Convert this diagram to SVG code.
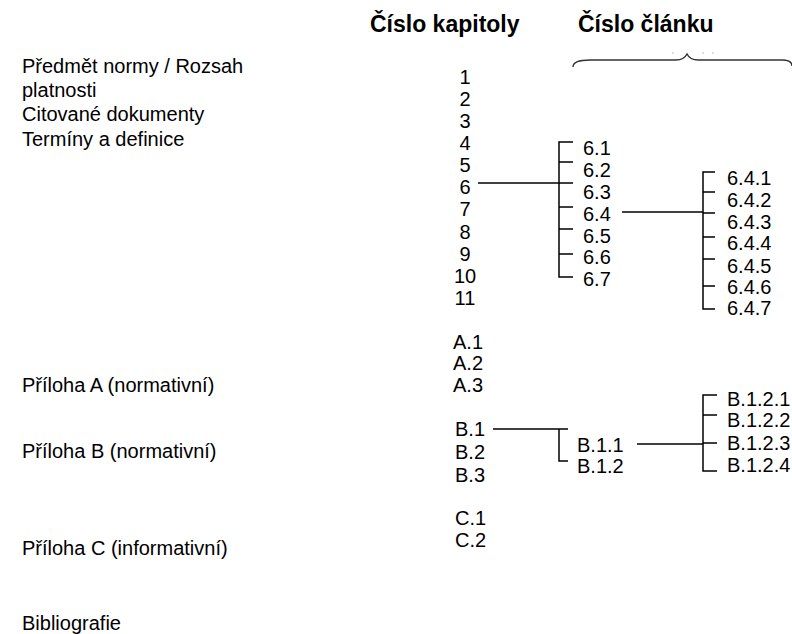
<svg xmlns="http://www.w3.org/2000/svg" width="792" height="634" viewBox="0 0 792 634">
  <style>
    text { font-family: "Liberation Sans", Arial, sans-serif; font-size: 20px; fill: #000; }
    .head { font-size: 23px; font-weight: bold; }
    .num { text-anchor: middle; }
    .ln { stroke: #000; stroke-width: 1.5; fill: none; }
    .brace { stroke: #333; stroke-width: 1.4; fill: none; }
  </style>
  <rect width="792" height="634" fill="#fff"/>

  <!-- column headings -->
  <g id="headings">
    <text class="head" x="370" y="32">Číslo kapitoly</text>
    <text class="head" x="578" y="32">Číslo článku</text>
    <path class="brace" d="M573,67 C573,62 579,60 590,60 L676,60 C682,60 685,58 687,54 C689,58 692,60 698,60 L782,60 C789,60 792,62 792,66"/>
    <g stroke="#bbb" stroke-width="1">
      <line x1="672" y1="53" x2="674" y2="53"/>
      <line x1="702" y1="53" x2="704" y2="53"/>
      <line x1="712" y1="53" x2="714" y2="53"/>
    </g>
  </g>

  <!-- section titles, left column -->
  <g id="titles">
    <text x="22" y="73">Předmět normy / Rozsah</text>
    <text x="22" y="97">platnosti</text>
    <text x="22" y="121">Citované dokumenty</text>
    <text x="22" y="146">Termíny a definice</text>
    <text x="22" y="392">Příloha A (normativní)</text>
    <text x="22" y="458">Příloha B (normativní)</text>
    <text x="22" y="555">Příloha C (informativní)</text>
    <text x="22" y="630">Bibliografie</text>
  </g>

  <!-- chapter numbers -->
  <g id="chapters">
    <text class="num" x="465" y="84">1</text>
    <text class="num" x="465" y="106">2</text>
    <text class="num" x="465" y="128">3</text>
    <text class="num" x="465" y="150">4</text>
    <text class="num" x="465" y="172">5</text>
    <text class="num" x="465" y="194">6</text>
    <text class="num" x="465" y="216">7</text>
    <text class="num" x="465" y="239">8</text>
    <text class="num" x="465" y="261">9</text>
    <text class="num" x="465" y="283">10</text>
    <text class="num" x="465" y="305">11</text>
  </g>

  <!-- annex clauses -->
  <g id="annexA">
    <text x="453" y="349">A.1</text>
    <text x="453" y="370">A.2</text>
    <text x="453" y="392">A.3</text>
  </g>
  <g id="annexB">
    <text x="455" y="436">B.1</text>
    <text x="455" y="459">B.2</text>
    <text x="455" y="482">B.3</text>
  </g>
  <g id="annexC">
    <text x="455" y="525">C.1</text>
    <text x="455" y="547">C.2</text>
  </g>

  <!-- clauses of chapter 6 -->
  <g id="clauses6">
    <text x="583" y="155">6.1</text>
    <text x="583" y="177">6.2</text>
    <text x="583" y="199">6.3</text>
    <text x="583" y="221">6.4</text>
    <text x="583" y="243">6.5</text>
    <text x="583" y="264">6.6</text>
    <text x="583" y="286">6.7</text>
  </g>

  <!-- subclauses of 6.4 -->
  <g id="clauses64">
    <text x="727" y="185">6.4.1</text>
    <text x="727" y="207">6.4.2</text>
    <text x="727" y="229">6.4.3</text>
    <text x="727" y="250">6.4.4</text>
    <text x="727" y="273">6.4.5</text>
    <text x="727" y="294">6.4.6</text>
    <text x="727" y="315">6.4.7</text>
  </g>

  <!-- clauses of B.1 -->
  <g id="clausesB1">
    <text x="577" y="452">B.1.1</text>
    <text x="577" y="473">B.1.2</text>
  </g>

  <!-- subclauses of B.1.2 -->
  <g id="clausesB12">
    <text x="727" y="406">B.1.2.1</text>
    <text x="727" y="427">B.1.2.2</text>
    <text x="727" y="450">B.1.2.3</text>
    <text x="727" y="472">B.1.2.4</text>
  </g>

  <!-- connectors and brackets -->
  <g id="connectors" class="ln">
    <!-- 6 -> 6.1..6.7 -->
    <line x1="478" y1="183" x2="559" y2="183"/>
    <path d="M573,142 H559 V277 H573"/>
    <path d="M559,162 H573 M559,183 H573 M559,207 H573 M559,229 H573 M559,254 H573"/>
    <!-- 6.4 -> 6.4.1..6.4.7 -->
    <line x1="622" y1="212" x2="703" y2="212"/>
    <path d="M715,172 H703 V309 H715"/>
    <path d="M703,192 H715 M703,213 H715 M703,237 H715 M703,259 H715 M703,286 H715"/>
    <!-- B.1 -> B.1.1, B.1.2 -->
    <path d="M493,429 H568 M559,429 V461 H568"/>
    <!-- B.1.1 -> B.1.2.1..B.1.2.4 -->
    <line x1="637" y1="444" x2="703" y2="444"/>
    <path d="M717,395 H703 V471 H717"/>
    <path d="M703,415 H717 M703,443 H717"/>
  </g>
</svg>
